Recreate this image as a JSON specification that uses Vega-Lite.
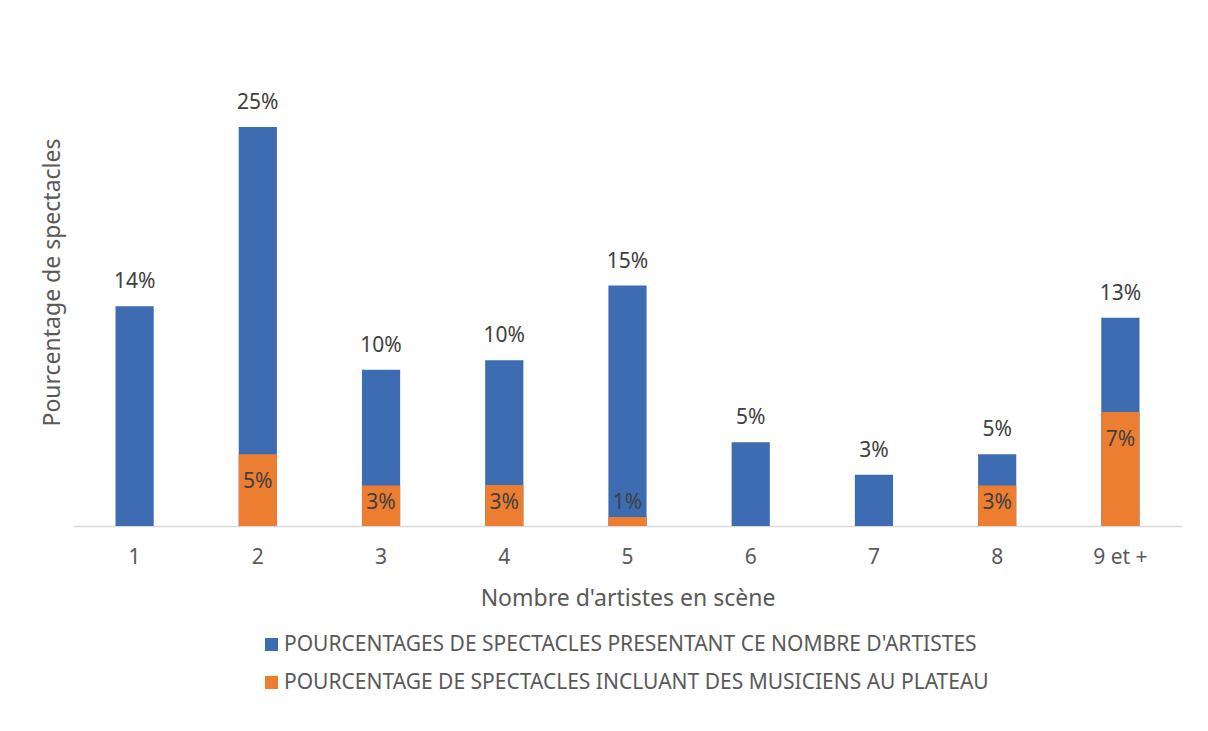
{
  "$schema": "https://vega.github.io/schema/vega-lite/v6.json",
  "width": 1109,
  "height": 476,
  "autosize": {"type": "none"},
  "padding": {"left": 73, "top": 50, "right": 26, "bottom": 205},
  "background": "white",
  "config": {"view": {"stroke": null}, "font": "Noto Sans"},
  "data": {
    "values": [
      {"nb": "1", "serie": "POURCENTAGES DE SPECTACLES PRESENTANT CE NOMBRE D'ARTISTES", "value": 0.1385},
      {"nb": "2", "serie": "POURCENTAGES DE SPECTACLES PRESENTANT CE NOMBRE D'ARTISTES", "value": 0.2515},
      {"nb": "3", "serie": "POURCENTAGES DE SPECTACLES PRESENTANT CE NOMBRE D'ARTISTES", "value": 0.0985},
      {"nb": "4", "serie": "POURCENTAGES DE SPECTACLES PRESENTANT CE NOMBRE D'ARTISTES", "value": 0.1045},
      {"nb": "5", "serie": "POURCENTAGES DE SPECTACLES PRESENTANT CE NOMBRE D'ARTISTES", "value": 0.1515},
      {"nb": "6", "serie": "POURCENTAGES DE SPECTACLES PRESENTANT CE NOMBRE D'ARTISTES", "value": 0.0528},
      {"nb": "7", "serie": "POURCENTAGES DE SPECTACLES PRESENTANT CE NOMBRE D'ARTISTES", "value": 0.0323},
      {"nb": "8", "serie": "POURCENTAGES DE SPECTACLES PRESENTANT CE NOMBRE D'ARTISTES", "value": 0.0452},
      {"nb": "9 et +", "serie": "POURCENTAGES DE SPECTACLES PRESENTANT CE NOMBRE D'ARTISTES", "value": 0.1312},
      {"nb": "2", "serie": "POURCENTAGE DE SPECTACLES INCLUANT DES MUSICIENS AU PLATEAU", "value": 0.0452},
      {"nb": "3", "serie": "POURCENTAGE DE SPECTACLES INCLUANT DES MUSICIENS AU PLATEAU", "value": 0.0256},
      {"nb": "4", "serie": "POURCENTAGE DE SPECTACLES INCLUANT DES MUSICIENS AU PLATEAU", "value": 0.0258},
      {"nb": "5", "serie": "POURCENTAGE DE SPECTACLES INCLUANT DES MUSICIENS AU PLATEAU", "value": 0.0056},
      {"nb": "8", "serie": "POURCENTAGE DE SPECTACLES INCLUANT DES MUSICIENS AU PLATEAU", "value": 0.0256},
      {"nb": "9 et +", "serie": "POURCENTAGE DE SPECTACLES INCLUANT DES MUSICIENS AU PLATEAU", "value": 0.0718}
    ]
  },
  "encoding": {
    "x": {
      "field": "nb",
      "type": "ordinal",
      "sort": ["1", "2", "3", "4", "5", "6", "7", "8", "9 et +"],
      "scale": {"paddingInner": 0.69, "paddingOuter": 0.345},
      "axis": {
        "title": "Nombre d'artistes en scène",
        "labelAngle": 0,
        "ticks": false,
        "grid": false,
        "labelPadding": 20,
        "labelFontSize": 21,
        "labelColor": "#595959",
        "domainColor": "#d9d9d9",
        "domainWidth": 1.5,
        "titleFontSize": 23,
        "titleColor": "#595959",
        "titleFontWeight": "normal",
        "titleBaseline": "alphabetic",
        "titleY": 79
      }
    }
  },
  "layer": [
    {
      "transform": [{"filter": "datum.serie == \"POURCENTAGES DE SPECTACLES PRESENTANT CE NOMBRE D'ARTISTES\""}],
      "mark": {"type": "bar"},
      "encoding": {
        "y": {
          "field": "value",
          "type": "quantitative",
          "scale": {"domain": [0, 0.3], "nice": false},
          "axis": {
            "title": "Pourcentage de spectacles",
            "labels": false,
            "ticks": false,
            "domain": false,
            "grid": false,
            "titleFontSize": 23,
            "titleColor": "#595959",
            "titleFontWeight": "normal",
            "titleAngle": -90,
            "titleAlign": "center",
            "titleBaseline": "alphabetic",
            "titleX": -14,
            "titleY": 232
          }
        },
        "color": {
          "field": "serie",
          "type": "nominal",
          "scale": {
            "domain": ["POURCENTAGES DE SPECTACLES PRESENTANT CE NOMBRE D'ARTISTES", "POURCENTAGE DE SPECTACLES INCLUANT DES MUSICIENS AU PLATEAU"],
            "range": ["#3E6CB3", "#ED7D31"]
          },
          "legend": {
            "title": null,
            "orient": "none",
            "legendX": 188,
            "legendY": 584,
            "direction": "vertical",
            "symbolType": "square",
            "symbolSize": 169,
            "symbolStrokeWidth": 0,
            "labelFontSize": 21,
            "labelColor": "#595959",
            "labelLimit": 0,
            "labelOffset": 2,
            "rowPadding": 16,
            "padding": 0
          }
        }
      }
    },
    {
      "transform": [{"filter": "datum.serie == 'POURCENTAGE DE SPECTACLES INCLUANT DES MUSICIENS AU PLATEAU'"}],
      "mark": {"type": "bar"},
      "encoding": {
        "y": {"field": "value", "type": "quantitative"},
        "color": {"field": "serie", "type": "nominal"}
      }
    },
    {
      "transform": [{"filter": "datum.serie == \"POURCENTAGES DE SPECTACLES PRESENTANT CE NOMBRE D'ARTISTES\""}],
      "mark": {"type": "text", "baseline": "middle", "dy": -24, "fontSize": 21, "color": "#404040"},
      "encoding": {
        "y": {"field": "value", "type": "quantitative"},
        "text": {"field": "value", "type": "quantitative", "format": ".0%"}
      }
    },
    {
      "transform": [{"filter": "datum.serie == 'POURCENTAGE DE SPECTACLES INCLUANT DES MUSICIENS AU PLATEAU' && datum.value >= 0.032"}],
      "mark": {"type": "text", "baseline": "middle", "dy": 28, "fontSize": 21, "color": "#404040"},
      "encoding": {
        "y": {"field": "value", "type": "quantitative"},
        "text": {"field": "value", "type": "quantitative", "format": ".0%"}
      }
    },
    {
      "transform": [{"filter": "datum.serie == 'POURCENTAGE DE SPECTACLES INCLUANT DES MUSICIENS AU PLATEAU' && datum.value < 0.032"}],
      "mark": {"type": "text", "baseline": "middle", "dy": -23, "fontSize": 21, "color": "#404040"},
      "encoding": {
        "y": {"datum": 0, "type": "quantitative"},
        "text": {"field": "value", "type": "quantitative", "format": ".0%"}
      }
    }
  ]
}
